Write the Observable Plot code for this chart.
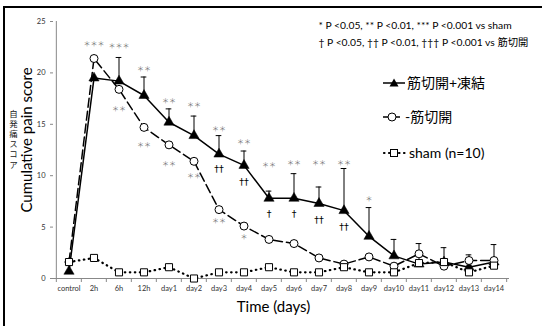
<!DOCTYPE html>
<html><head><meta charset="utf-8">
<script src="https://cdn.jsdelivr.net/npm/d3@7"></script>
<script src="https://cdn.jsdelivr.net/npm/@observablehq/plot@0.6"></script>
<style>
body{margin:0;background:#fff;}
#wrap{position:relative;width:542px;height:326px;overflow:hidden;font-family:Lato,"Noto Sans CJK JP",sans-serif;}
#border{position:absolute;left:3px;top:6px;width:600px;height:400px;border-top:2px solid #000;border-left:2px solid #000;}
#chart{position:absolute;left:0;top:0;}
.leg{position:absolute;left:382px;display:flex;align-items:center;font-size:14px;line-height:1;color:#000;white-space:nowrap;}
.leg svg{display:block;margin-right:1px;}
</style></head><body>
<div id="wrap"><div id="border"></div><div id="chart"></div><div id="legend"></div></div>
<script>
const categories = ["control","2h","6h","12h","day1","day2","day3","day4","day5","day6","day7","day8","day9","day10","day11","day12","day13","day14"];
const incisionFreeze    = [0.7,19.5,19.2,17.8,15.2,13.9,12.1,11.0,7.8,7.8,7.3,6.6,4.1,2.2,1.4,1.6,1.1,1.6];
const incisionFreezeErr = [null,null,21.5,19.6,16.5,15.8,13.9,12.4,8.5,10.2,8.9,10.7,6.9,3.8,null,3.0,null,3.3];
const incision          = [1.6,21.4,18.4,14.7,13.0,11.4,6.7,5.1,3.8,3.4,2.0,1.4,2.1,1.2,2.4,1.2,1.75,1.75];
const incisionErr       = [null,null,null,null,null,null,null,null,null,null,null,null,null,null,3.4,null,2.3,null];
const sham              = [1.6,2.0,0.6,0.6,1.1,0.0,0.6,0.6,1.1,0.6,0.6,1.1,0.6,0.6,1.5,1.6,0.6,1.25];
const yTicks = [0,5,10,15,20,25];

// significance labels: category, label, value at which the label sits
const starTopCats   = ["2h","6h","12h","day1","day2","day3","day4","day5","day6","day7","day8","day9"];
const starTopLabels = ["＊＊＊","＊＊＊","＊＊","＊＊","＊＊","＊＊","＊＊","＊＊","＊＊","＊＊","＊＊","＊"];
const starTopY      = [22.8,22.6,20.4,17.3,16.9,14.6,13.3,11.1,11.3,11.3,11.3,7.8];
const starLowCats   = ["6h","12h","day1","day2","day3","day4"];
const starLowLabels = ["＊＊","＊＊","＊＊","＊＊","＊＊","＊"];
const starLowY      = [16.5,13.0,11.2,10.0,5.6,4.1];
const daggerCats    = ["day3","day4","day5","day6","day7","day8"];
const daggerLabels  = ["††","††","†","†","††","††"];
const daggerY       = [10.7,9.4,6.3,6.3,5.7,5.0];

const seriesNames = ["筋切開+凍結","-筋切開","sham (n=10)"];
const noteLines = ["* P <0.05, ** P <0.01, *** P <0.001 vs sham","† P <0.05, †† P <0.01, ††† P <0.001 vs 筋切開"];
const yTitle = "Cumulative pain score";
const yTitleJa = "自発痛スコア";
const xTitle = "Time (days)";

const W=542,H=326,mL=53,mR=33,mT=21,mB=48;
const half=(W-mL-mR)/categories.length/2;
const rows = categories.map((c,i)=>({c,f:incisionFreeze[i],fe:incisionFreezeErr[i],n:incision[i],ne:incisionErr[i],s:sham[i]}));
const fErr = rows.filter(d=>d.fe!=null), nErr = rows.filter(d=>d.ne!=null);
const mk = (cats,labels,ys)=>cats.map((c,i)=>({c,t:labels[i],y:ys[i]}));
const font = "Lato, 'Noto Sans CJK JP', sans-serif";

const chart = Plot.plot({
  width:W,height:H,marginLeft:mL,marginRight:mR,marginTop:mT,marginBottom:mB,
  style:{fontFamily:font,background:"transparent"},
  x:{type:"band",domain:categories,padding:0,label:null},
  y:{domain:[0,25],label:null},
  marks:[
    Plot.ruleY([0],{stroke:"#888"}),
    Plot.ruleX([categories[0]],{dx:-half,stroke:"#888"}),
    Plot.ruleX(categories,{x:d=>d,dx:-half,insetTop:H-mT-mB,insetBottom:-4,stroke:"#888"}),
    Plot.ruleX([categories[categories.length-1]],{dx:half,insetTop:H-mT-mB,insetBottom:-4,stroke:"#888"}),
    Plot.axisY({ticks:yTicks,tickSize:3,tickPadding:5,stroke:"#888",fill:"#333",fontSize:7.5}),
    Plot.axisX({tickSize:0,tickPadding:7,fill:"#333",fontSize:7.5}),
    // 筋切開+凍結
    Plot.ruleX(fErr,{x:"c",y1:"f",y2:"fe",stroke:"#000",strokeWidth:1}),
    Plot.tickY(fErr,{x:"c",y:"fe",insetLeft:half-3,insetRight:half-3,stroke:"#000",strokeWidth:1}),
    Plot.line(rows,{x:"c",y:"f",stroke:"#000",strokeWidth:1.5}),
    Plot.dot(rows,{x:"c",y:"f",symbol:"triangle",r:3.8,fill:"#000",stroke:"#000",strokeWidth:0.5}),
    // 筋切開
    Plot.ruleX(nErr,{x:"c",y1:"n",y2:"ne",stroke:"#000",strokeWidth:1}),
    Plot.tickY(nErr,{x:"c",y:"ne",insetLeft:half-3,insetRight:half-3,stroke:"#000",strokeWidth:1}),
    Plot.line(rows,{x:"c",y:"n",stroke:"#000",strokeWidth:1.5,strokeDasharray:"9,4"}),
    Plot.dot(rows,{x:"c",y:"n",symbol:"circle",r:4,fill:"#fff",stroke:"#000",strokeWidth:1}),
    // sham
    Plot.line(rows,{x:"c",y:"s",stroke:"#000",strokeWidth:2.2,strokeDasharray:"0.5,4.5",strokeLinecap:"round"}),
    Plot.dot(rows,{x:"c",y:"s",symbol:"square",r:4,fill:"#fff",stroke:"#000",strokeWidth:1}),
    // significance
    Plot.text(mk(starTopCats,starTopLabels,starTopY),{x:"c",y:"y",text:"t",fontSize:7,fill:"#777",fontFamily:"'Noto Sans CJK JP'"}),
    Plot.text(mk(starLowCats,starLowLabels,starLowY),{x:"c",y:"y",text:"t",fontSize:7,fill:"#777",fontFamily:"'Noto Sans CJK JP'"}),
    Plot.text(mk(daggerCats,daggerLabels,daggerY),{x:"c",y:"y",text:"t",fontSize:9.5,fill:"#000",fontFamily:"'DejaVu Sans'"}),
    // titles & notes
    Plot.text([yTitle],{frameAnchor:"left",textAnchor:"middle",lineAnchor:"middle",rotate:-90,dx:-26,dy:-10,fontSize:15,fill:"#000"}),
    Plot.text([yTitleJa],{frameAnchor:"left",textAnchor:"middle",dx:-40,dy:-13,fontSize:8.5,fill:"#222",fontFamily:"'Noto Sans CJK JP'"}),
    Plot.text([xTitle],{frameAnchor:"bottom",dx:-8,dy:29,lineAnchor:"middle",fontSize:15,fill:"#000"}),
    Plot.text([noteLines[0]],{frameAnchor:"top-right",dx:-191,dy:4,textAnchor:"start",lineAnchor:"middle",fontSize:10.3,fill:"#000"}),
    Plot.text([noteLines[1]],{frameAnchor:"top-right",dx:-191,dy:21,textAnchor:"start",lineAnchor:"middle",fontSize:10.3,fill:"#000"})
  ]
});
// vertical Japanese writing for the secondary y title
const ja = Array.from(chart.querySelectorAll("text")).find(e=>e.textContent===yTitleJa);
if (ja) {
  ja.removeAttribute("dy");
  ja.style.writingMode = "vertical-rl";
  ja.style.textOrientation = "upright";
  ja.style.letterSpacing = "1.7px";
}
document.getElementById("chart").appendChild(chart);

// legend
const leg = document.getElementById("legend");
const sw = [
  `<svg width="24" height="12"><line x1="1" y1="6" x2="23" y2="6" stroke="#000" stroke-width="1.5"/><path d="M12,1.5 L16.5,9.5 L7.5,9.5 Z" fill="#000"/></svg>`,
  `<svg width="22" height="12"><line x1="1" y1="6" x2="21" y2="6" stroke="#000" stroke-width="1.5" stroke-dasharray="7,3"/><circle cx="10" cy="6" r="4" fill="#fff" stroke="#000"/></svg>`,
  `<svg width="26" height="12"><line x1="2" y1="6" x2="25" y2="6" stroke="#000" stroke-width="2.2" stroke-dasharray="0.5,4.5" stroke-linecap="round"/><rect x="8.5" y="2.5" width="7" height="7" fill="#fff" stroke="#000"/></svg>`
];
const tops=[83,117,153];
seriesNames.forEach((n,i)=>{
  const d=document.createElement("div");
  d.className="leg";
  d.style.top=(tops[i]-8)+"px";
  d.style.height="16px";
  d.innerHTML=sw[i]+`<span>${n}</span>`;
  leg.appendChild(d);
});
</script>
</body></html>
